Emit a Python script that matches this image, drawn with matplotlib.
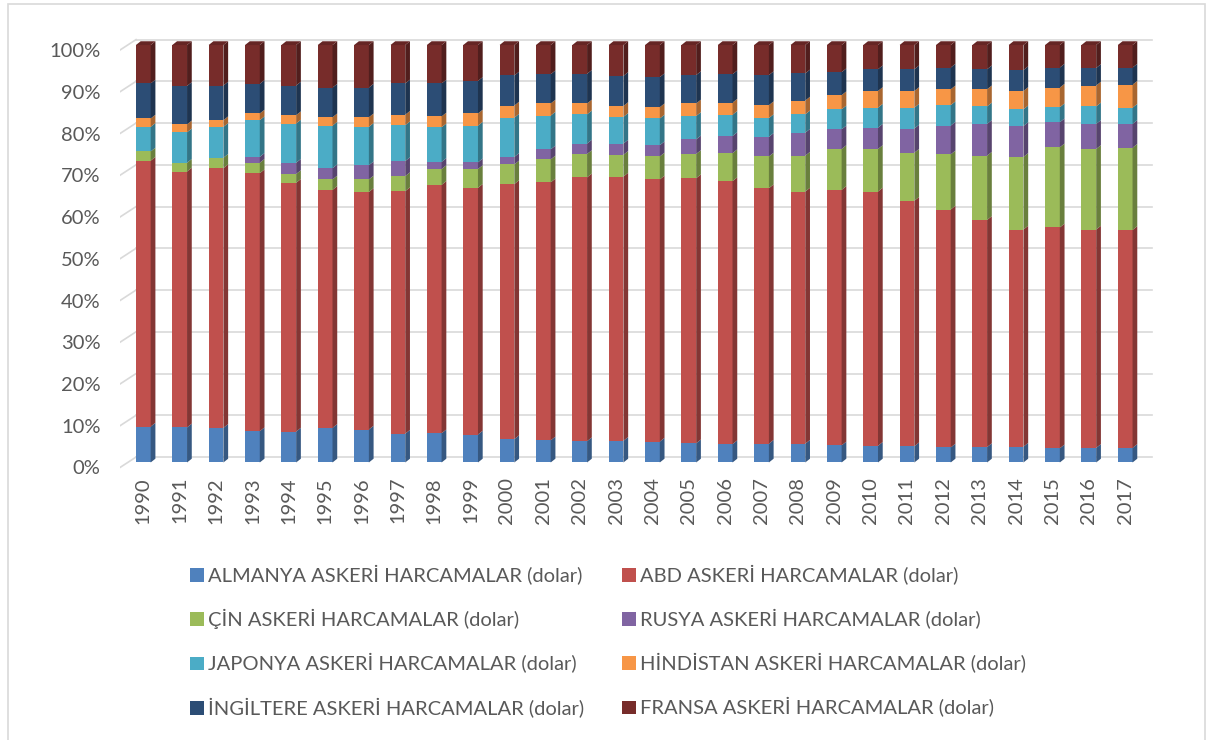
import matplotlib

matplotlib.use("Agg")
import matplotlib.pyplot as plt
import numpy as np
from matplotlib.colors import to_rgb
from matplotlib.patches import Patch, Polygon, Rectangle

plt.rcParams["font.family"] = ["Lato", "DejaVu Sans"]

YEARS = [str(y) for y in range(1990, 2018)]

# shares (%), bottom to top
ALMANYA = [8.6, 8.4, 8.3, 7.5, 7.4, 8.3, 7.9, 6.9, 7.0, 6.7, 5.6, 5.3, 5.1, 5.2,
           5.0, 4.6, 4.4, 4.5, 4.5, 4.1, 4.0, 3.9, 3.6, 3.7, 3.8, 3.4, 3.5, 3.5]
ABD = [63.7, 61.3, 62.2, 61.8, 59.6, 57.0, 56.9, 58.1, 59.5, 59.1, 61.1, 61.8, 63.2, 63.3,
       62.8, 63.5, 63.0, 61.2, 60.4, 61.2, 60.9, 58.8, 57.0, 54.4, 52.0, 52.9, 52.3, 52.2]
CIN = [2.2, 2.1, 2.5, 2.5, 2.1, 2.5, 3.0, 3.6, 3.8, 4.5, 4.7, 5.5, 5.6, 5.2,
       5.5, 5.8, 6.7, 7.6, 8.6, 9.8, 10.2, 11.5, 13.2, 15.4, 17.4, 19.2, 19.3, 19.7]
RUSYA = [0.0, 0.0, 0.0, 1.4, 2.7, 2.7, 3.4, 3.6, 1.7, 1.6, 1.8, 2.4, 2.5, 2.7,
         2.7, 3.5, 4.1, 4.7, 5.5, 4.7, 5.1, 5.8, 6.9, 7.6, 7.4, 6.0, 6.0, 5.7]
JAPONYA = [5.9, 7.3, 7.4, 8.8, 9.4, 10.2, 9.2, 8.6, 8.3, 8.8, 9.4, 8.1, 7.0, 6.4,
           6.4, 5.6, 5.1, 4.5, 4.4, 4.8, 4.8, 5.0, 4.9, 4.2, 4.0, 3.6, 4.2, 3.9]
HINDISTAN = [2.0, 1.9, 1.6, 1.6, 2.0, 2.0, 2.3, 2.5, 2.6, 2.9, 2.9, 2.9, 2.6, 2.6,
             2.7, 3.0, 2.9, 3.1, 3.3, 3.4, 4.0, 4.0, 3.8, 4.1, 4.4, 4.7, 5.0, 5.5]
INGILTERE = [8.4, 9.2, 8.3, 7.1, 7.1, 7.1, 7.1, 7.5, 7.9, 7.8, 7.2, 7.0, 7.1, 7.2,
             7.2, 6.8, 6.8, 7.2, 6.5, 5.5, 5.2, 5.2, 5.2, 4.8, 5.0, 4.8, 4.2, 4.1]
FRANSA = [9.2, 9.8, 9.7, 9.3, 9.7, 10.2, 10.2, 9.2, 9.2, 8.6, 7.3, 7.0, 6.9, 7.4,
          7.7, 7.2, 7.0, 7.2, 6.8, 6.5, 5.8, 5.8, 5.4, 5.8, 6.0, 5.4, 5.5, 5.4]

SERIES = [
    ("ALMANYA ASKERİ HARCAMALAR (dolar)", ALMANYA, "#4F81BD"),
    ("ABD ASKERİ HARCAMALAR (dolar)", ABD, "#C0504D"),
    ("ÇİN ASKERİ HARCAMALAR (dolar)", CIN, "#9BBB59"),
    ("RUSYA ASKERİ HARCAMALAR (dolar)", RUSYA, "#8064A2"),
    ("JAPONYA ASKERİ HARCAMALAR (dolar)", JAPONYA, "#4BACC6"),
    ("HİNDİSTAN ASKERİ HARCAMALAR (dolar)", HINDISTAN, "#F79646"),
    ("İNGİLTERE ASKERİ HARCAMALAR (dolar)", INGILTERE, "#2C4D75"),
    ("FRANSA ASKERİ HARCAMALAR (dolar)", FRANSA, "#772C2A"),
]

TEXT = "#595959"
GRID = "#D9D9D9"


def shade(color, k):
    return tuple(c * k for c in to_rgb(color))


fig = plt.figure(figsize=(12.18, 7.40), dpi=100)
ax = fig.add_axes([120 / 1218, 270 / 740, 1035 / 1218, 435 / 740])

x = np.arange(len(YEARS))
data = np.array([s[1] for s in SERIES], dtype=float)
data = data / data.sum(axis=0) * 100.0

width = 0.405
dx, dy = 0.13, 0.9  # fake 3D depth
x0 = -0.641
xback = -0.2

# back wall gridlines with a slanted front stub
for v in range(0, 101, 10):
    ax.plot([x0, xback], [v - 1.2, v + 1.3], color=GRID, lw=1.2, zorder=0)
    ax.plot([xback, 27.75], [v + 1.3, v + 1.3], color=GRID, lw=1.2, zorder=0)

bottom = np.zeros(len(YEARS))
for i, (label, _, color) in enumerate(SERIES):
    vals = data[i]
    ax.bar(x, vals, width=width, bottom=bottom, color=color, zorder=3)
    for xi, b, h in zip(x, bottom, vals):
        if h <= 0:
            continue
        xr = xi + width / 2
        side = Polygon([(xr, b), (xr + dx, b + dy), (xr + dx, b + h + dy), (xr, b + h)],
                       closed=True, facecolor=shade(color, 0.68), edgecolor="none", zorder=3)
        ax.add_patch(side)
    bottom = bottom + vals

# top faces of the stacks
top_color = SERIES[-1][2]
for xi, t in zip(x, bottom):
    xl, xr = xi - width / 2, xi + width / 2
    ax.add_patch(Polygon([(xl, t), (xl + dx, t + dy), (xr + dx, t + dy), (xr, t)],
                         closed=True, facecolor=shade(top_color, 0.85), edgecolor="none", zorder=4))

ax.set_xlim(x0, 27.82)
ax.set_ylim(-1.8, 102.4)
ax.set_xticks(x)
ax.set_xticklabels(YEARS, rotation=90, fontsize=14.5, color=TEXT)
ax.set_yticks([v - 1.2 for v in range(0, 101, 10)])
ax.set_yticklabels([f"{v}%" for v in range(0, 101, 10)], fontsize=14.5, color=TEXT)
ax.tick_params(axis="y", length=0, pad=14)
ax.tick_params(axis="x", length=0, pad=5)
for sp in ax.spines.values():
    sp.set_visible(False)

# legend, row-wise order like the original
order = [0, 2, 4, 6, 1, 3, 5, 7]
handles = [Patch(facecolor=SERIES[k][2], edgecolor="none") for k in order]
labels = [SERIES[k][0] for k in order]
fig.legend(handles, labels, ncol=2, loc="upper left", bbox_to_anchor=(180 / 1218, 1 - 555 / 740),
           frameon=False, fontsize=14.5, labelcolor=TEXT, handlelength=0.68, handleheight=0.68,
           handletextpad=0.2, columnspacing=1.9, labelspacing=1.2, borderpad=0)

# outer chart border
fig.add_artist(Rectangle((8 / 1218, -0.01), 1197 / 1218, 1 - 4 / 740 + 0.01, transform=fig.transFigure,
                         fill=False, edgecolor="#D9D9D9", lw=1.2))

fig.savefig("out.png", dpi=100)
